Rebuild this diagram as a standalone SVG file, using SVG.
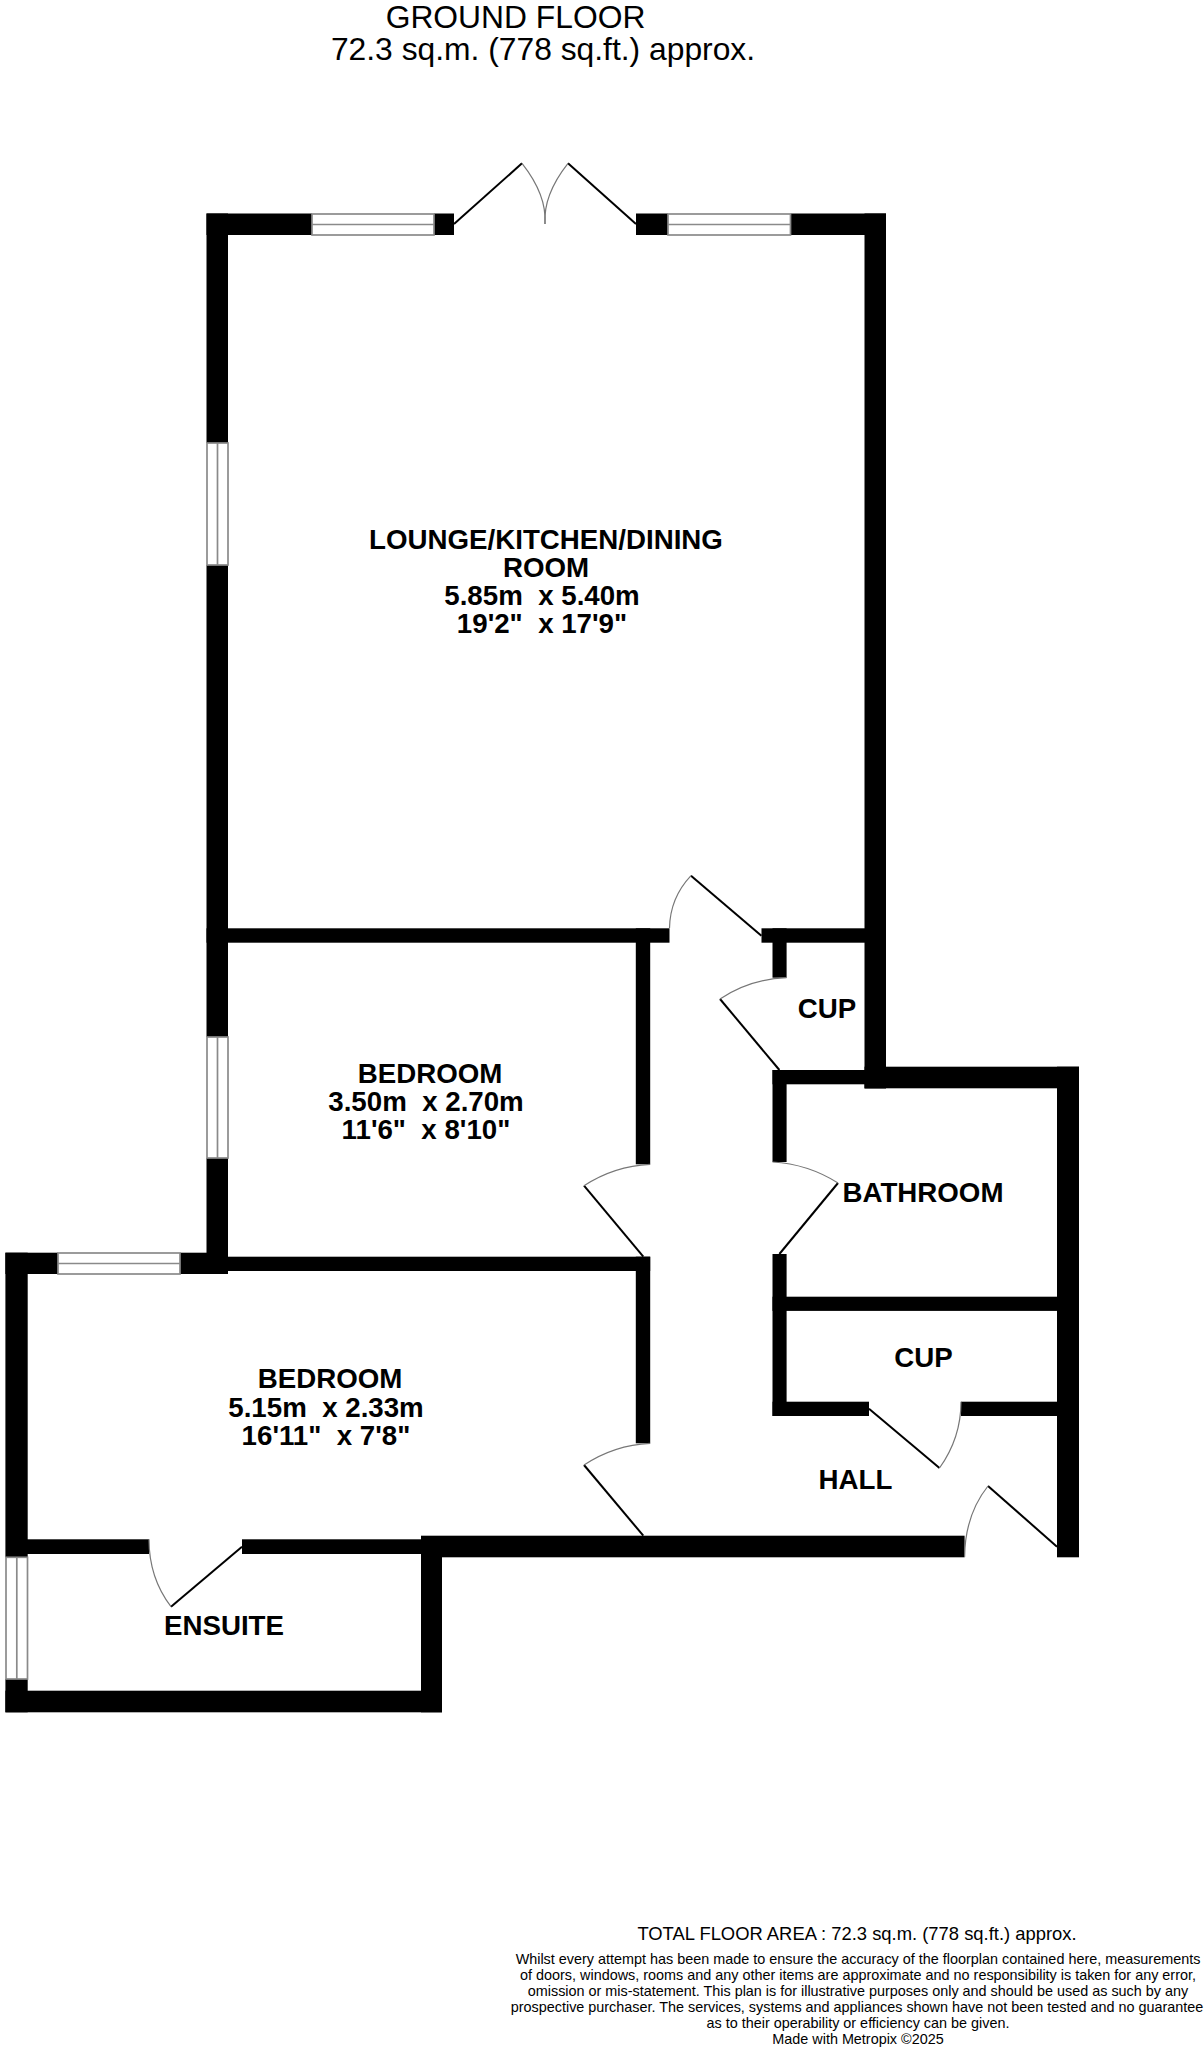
<svg xmlns="http://www.w3.org/2000/svg" width="1204" height="2048" viewBox="0 0 1204 2048">
<style>
.w{fill:#000}
.win{fill:#fff;stroke:#8a8a8a;stroke-width:1.7}
.leaf{fill:none;stroke:#000;stroke-width:2}
.arc{fill:none;stroke:#777;stroke-width:1.2}
text{font-family:"Liberation Sans",Arial,sans-serif;fill:#000;text-anchor:middle;white-space:pre}
.r{font-weight:bold;font-size:27.7px}
.t{font-size:31.8px}
.f{font-size:14.4px}
</style>
<rect width="1204" height="2048" fill="#fff"/>
<g id="walls">
<rect class="w" x="206.500" y="213.500" width="105.500" height="21.500"/>
<rect class="w" x="434" y="213.500" width="20" height="21.500"/>
<rect class="w" x="636" y="213.500" width="32" height="21.500"/>
<rect class="w" x="790.500" y="213.500" width="95.500" height="21.500"/>
<rect class="w" x="206.500" y="213.500" width="21.500" height="229.500"/>
<rect class="w" x="206.500" y="565" width="21.500" height="472"/>
<rect class="w" x="206.500" y="1158" width="21.500" height="116"/>
<rect class="w" x="864.500" y="213.500" width="21.500" height="875"/>
<rect class="w" x="206.500" y="928.300" width="463" height="14.400"/>
<rect class="w" x="761.500" y="928.300" width="124.500" height="14.400"/>
<rect class="w" x="635.800" y="928.300" width="14.400" height="236"/>
<rect class="w" x="772.500" y="928.300" width="14.100" height="49.400"/>
<rect class="w" x="772.500" y="1070" width="114" height="14.300"/>
<rect class="w" x="864.500" y="1066.700" width="214.500" height="21.600"/>
<rect class="w" x="772.500" y="1070" width="14.100" height="92"/>
<rect class="w" x="772.500" y="1254" width="14.100" height="162"/>
<rect class="w" x="772.500" y="1296.700" width="290" height="14.200"/>
<rect class="w" x="772.500" y="1401.700" width="96.500" height="14.300"/>
<rect class="w" x="961" y="1401.700" width="100" height="14.300"/>
<rect class="w" x="1057" y="1066.700" width="22" height="490.600"/>
<rect class="w" x="635.800" y="1256.700" width="14.400" height="186.600"/>
<rect class="w" x="206.500" y="1256.700" width="443.700" height="14.300"/>
<rect class="w" x="5.400" y="1252.700" width="52.600" height="21.300"/>
<rect class="w" x="180" y="1252.700" width="48" height="21.300"/>
<rect class="w" x="5.400" y="1252.700" width="22.300" height="304.600"/>
<rect class="w" x="5.400" y="1679" width="22.300" height="33.300"/>
<rect class="w" x="5.400" y="1690.700" width="436.600" height="21.600"/>
<rect class="w" x="27" y="1539.300" width="122" height="14.700"/>
<rect class="w" x="242" y="1539.300" width="180" height="14.700"/>
<rect class="w" x="421" y="1536" width="21" height="176.300"/>
<rect class="w" x="421" y="1535.700" width="543.600" height="21.600"/>
</g>
<g id="windows">
<g id="win-top-1"><rect class="win" x="312" y="214" width="122" height="21"/><path class="win" d="M312 224.500H434"/></g>
<g id="win-top-2"><rect class="win" x="668" y="214" width="122.500" height="21"/><path class="win" d="M668 224.500H790.500"/></g>
<g id="win-left-1"><rect class="win" x="207" y="443" width="21" height="122"/><path class="win" d="M217.500 443V565"/></g>
<g id="win-left-2"><rect class="win" x="207" y="1037" width="21" height="121"/><path class="win" d="M217.500 1037V1158"/></g>
<g id="win-bed"><rect class="win" x="58" y="1253" width="122" height="21"/><path class="win" d="M58 1263.500H180"/></g>
<g id="win-ens"><rect class="win" x="6" y="1557.300" width="21.500" height="121.700"/><path class="win" d="M16.800 1557.300V1679"/></g>
</g>
<g id="doors">
<path class="leaf" d="M454 224L522 163.300"/><path class="arc" d="M522 163.300Q547 195 545 224"/>
<path class="leaf" d="M636 224L568 163.300"/><path class="arc" d="M568 163.300Q543 195 545 224"/>
<path class="leaf" d="M761.400 935.700L691 875.700"/><path class="arc" d="M691 875.700Q670 898 669.500 928.300"/>
<path class="leaf" d="M779.400 1070L720 999"/><path class="arc" d="M720 999Q750 979 786.600 977.700"/>
<path class="leaf" d="M643.300 1256.700L584 1185.700"/><path class="arc" d="M584 1185.700Q614 1166 650.200 1164.300"/>
<path class="leaf" d="M779.400 1254L838 1183"/><path class="arc" d="M838 1183Q808 1164 772.500 1162"/>
<path class="leaf" d="M643.300 1535.700L584 1465"/><path class="arc" d="M584 1465Q614 1445 650.200 1443.300"/>
<path class="leaf" d="M869 1408.700L939.500 1468"/><path class="arc" d="M939.500 1468Q961 1438 961 1401.700"/>
<path class="leaf" d="M1057 1546.700L988 1486"/><path class="arc" d="M988 1486Q965 1515 964.600 1557"/>
<path class="leaf" d="M242 1546.700L171 1606.700"/><path class="arc" d="M171 1606.700Q149 1578 149 1539.300"/>
</g>
<g id="title"><text class="t" x="515.500" y="28">GROUND FLOOR</text><text class="t" x="543" y="60">72.3 sq.m. (778 sq.ft.) approx.</text></g>
<g id="room-lounge"><text class="r" x="546" y="549.300">LOUNGE/KITCHEN/DINING</text><text class="r" x="546" y="577.300">ROOM</text><text class="r" x="542" y="605.300">5.85m  x 5.40m</text><text class="r" x="542" y="633.300">19'2"  x 17'9"</text></g>
<g id="room-bed1"><text class="r" x="430" y="1083.300">BEDROOM</text><text class="r" x="426" y="1111">3.50m  x 2.70m</text><text class="r" x="426" y="1139.300">11'6"  x 8'10"</text></g>
<g id="room-bed2"><text class="r" x="330" y="1388">BEDROOM</text><text class="r" x="326" y="1416.700">5.15m  x 2.33m</text><text class="r" x="326" y="1445">16'11"  x 7'8"</text></g>
<g id="room-ensuite"><text class="r" x="224" y="1635">ENSUITE</text></g>
<g id="room-cup1"><text class="r" x="827" y="1017.700">CUP</text></g>
<g id="room-bath"><text class="r" x="923" y="1201.700">BATHROOM</text></g>
<g id="room-cup2"><text class="r" x="923.500" y="1367">CUP</text></g>
<g id="room-hall"><text class="r" x="855.500" y="1489">HALL</text></g>
<g id="footer">
<text x="857" y="1940" font-size="18.400">TOTAL FLOOR AREA : 72.3 sq.m. (778 sq.ft.) approx.</text>
<text class="f" x="858" y="1964.300">Whilst every attempt has been made to ensure the accuracy of the floorplan contained here, measurements</text>
<text class="f" x="858" y="1980.300">of doors, windows, rooms and any other items are approximate and no responsibility is taken for any error,</text>
<text class="f" x="858" y="1996.300">omission or mis-statement. This plan is for illustrative purposes only and should be used as such by any</text>
<text class="f" x="857" y="2012.300">prospective purchaser. The services, systems and appliances shown have not been tested and no guarantee</text>
<text class="f" x="858" y="2028.300">as to their operability or efficiency can be given.</text>
<text class="f" x="858" y="2044.300">Made with Metropix ©2025</text>
</g>
</svg>
